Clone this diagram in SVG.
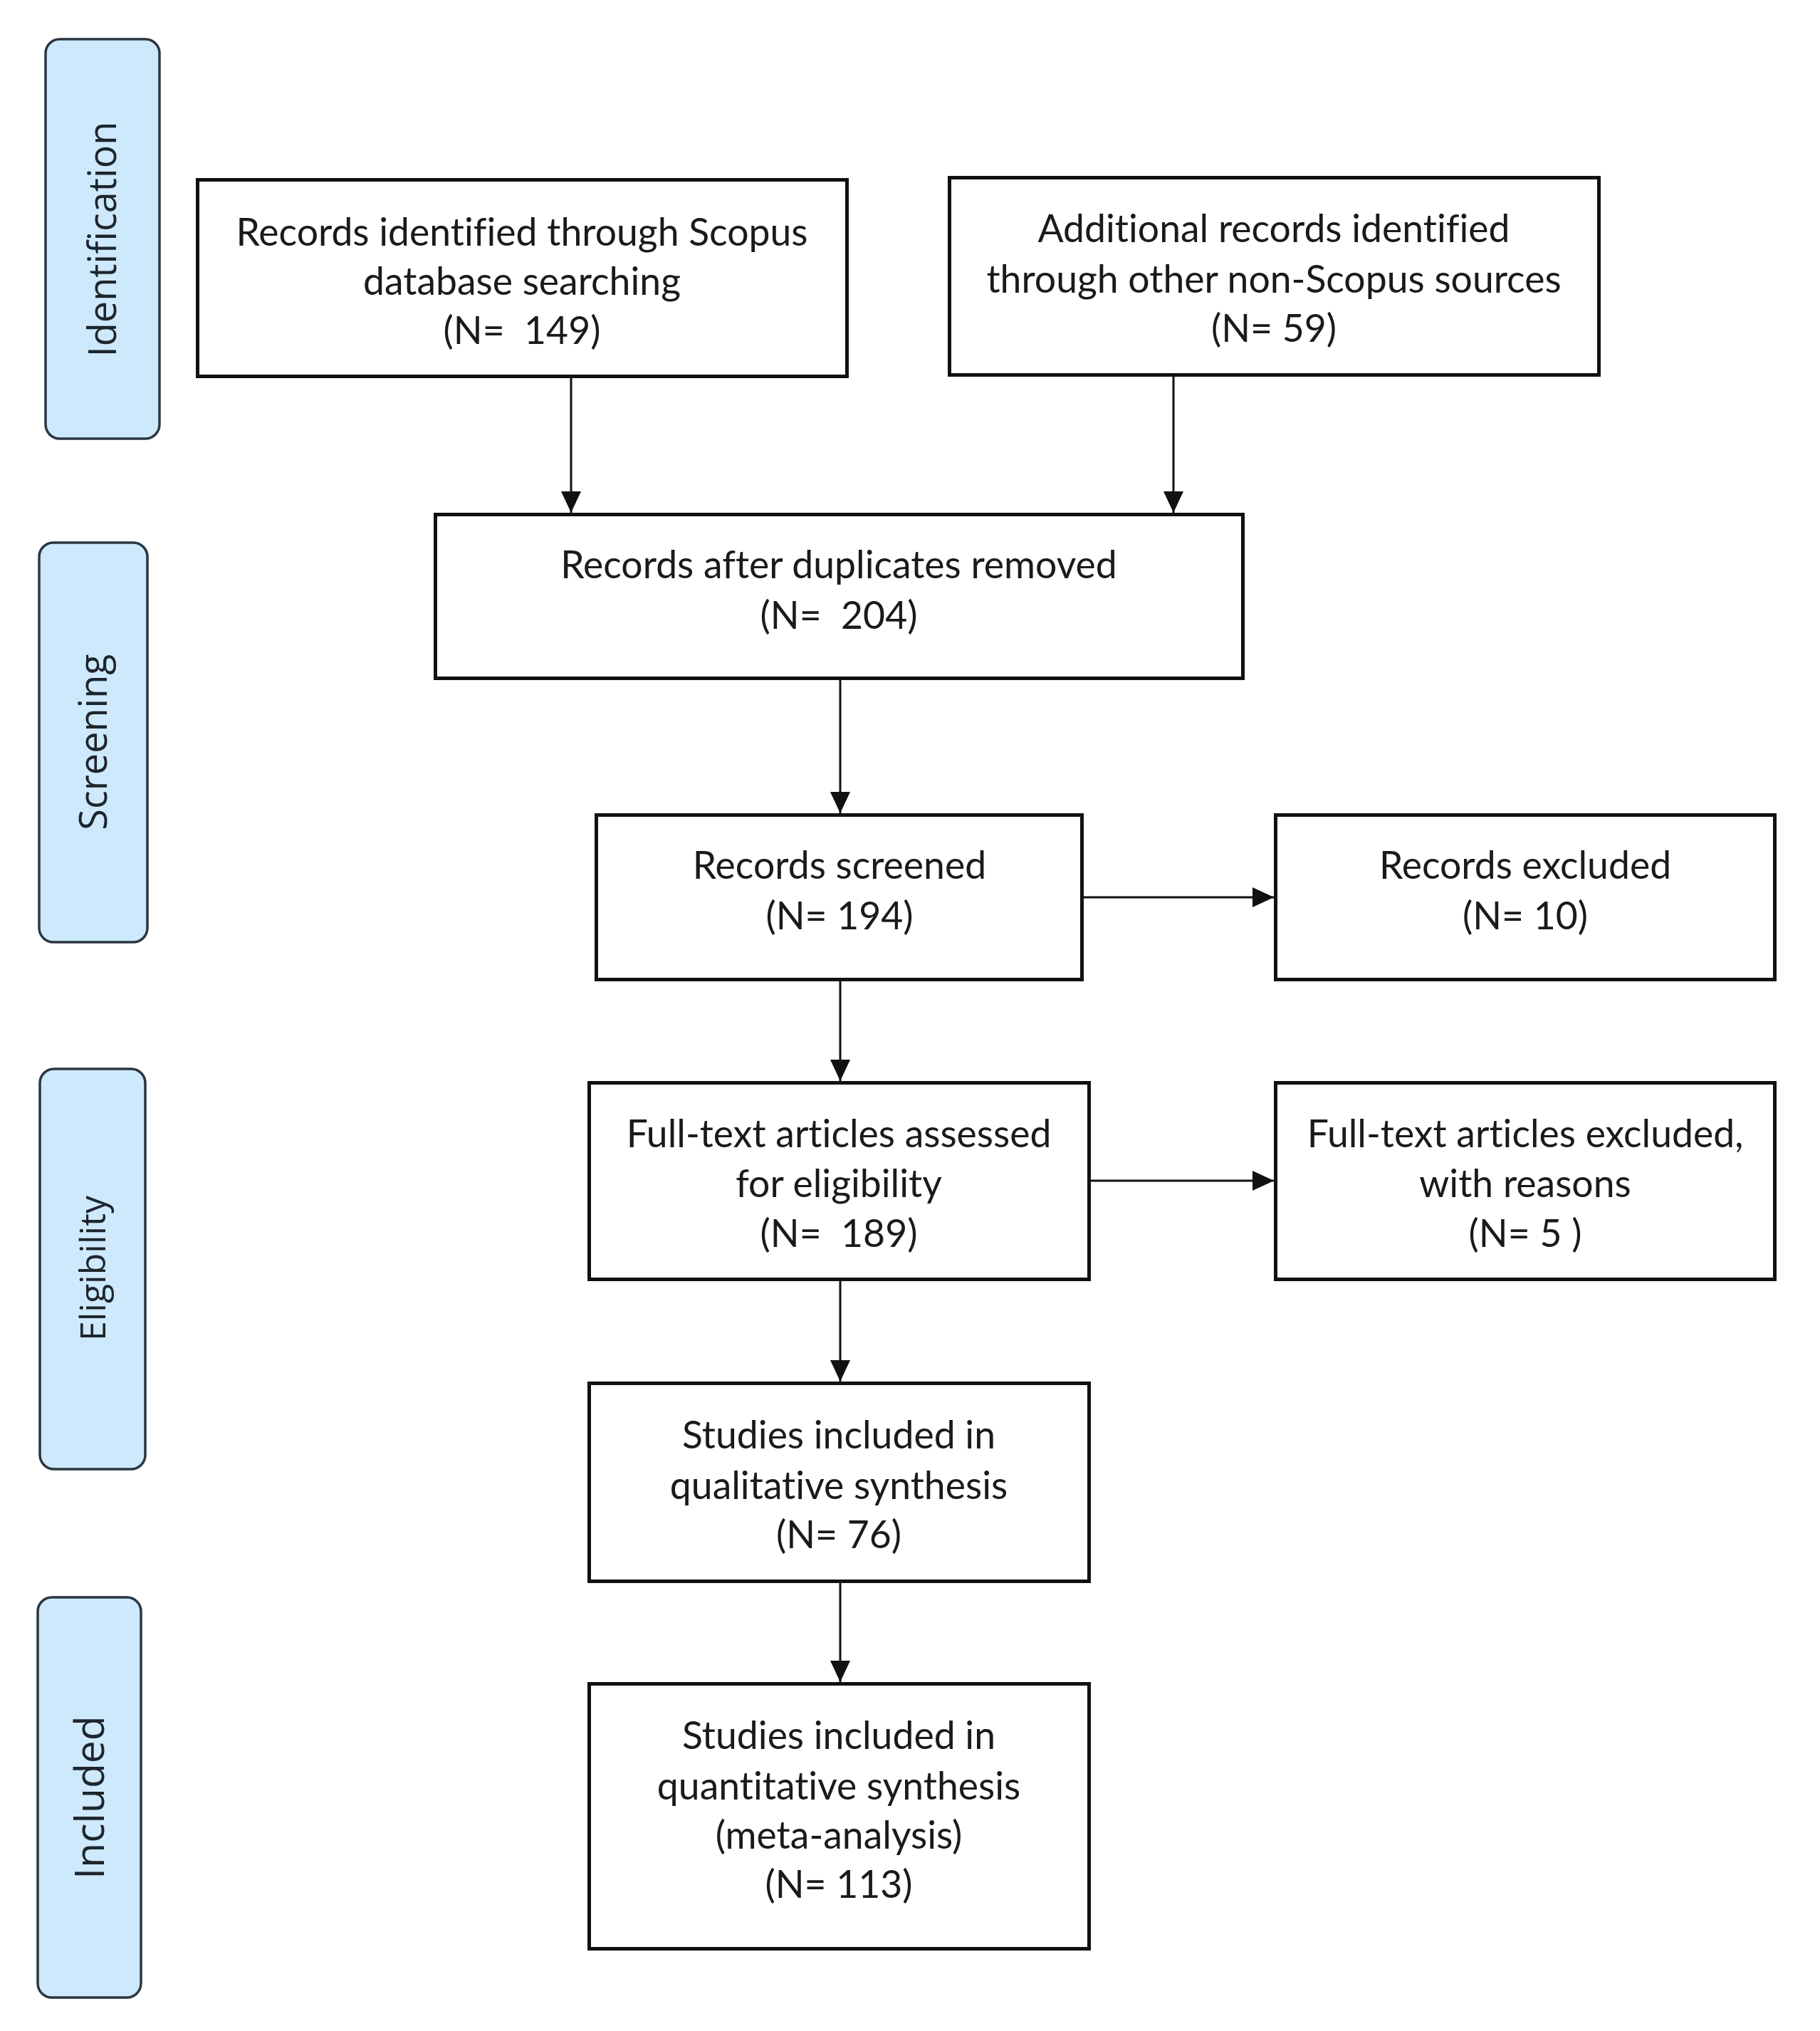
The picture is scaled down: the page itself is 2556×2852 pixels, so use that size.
<svg xmlns="http://www.w3.org/2000/svg" width="2556" height="2852" viewBox="0 0 2556 2852">
<style>
.lane{fill:#cde9fb;stroke:#2b3641;stroke-width:3.5}
.lt{font-family:"Open Sans","DejaVu Sans",sans-serif;fill:#1e252c;text-anchor:middle}
.box{fill:#ffffff;stroke:#111111;stroke-width:5}
.bt{font-family:Lato,"Liberation Sans",sans-serif;font-size:53.5px;fill:#1a1a1a;text-anchor:middle;font-variant-ligatures:none}
.con{stroke:#111111;stroke-width:3;fill:none;marker-end:url(#ah)}
</style>
<defs>
<marker id="ah" markerUnits="userSpaceOnUse" markerWidth="32" markerHeight="30" refX="30" refY="14" orient="auto">
<path d="M0,0 L30,14 L0,28 Z" fill="#111111"/>
</marker>
</defs>
<rect width="2556" height="2852" fill="#ffffff"/>
<g id="lane-identification">
<rect class="lane" x="64" y="55" width="160" height="561" rx="20"/>
<text class="lt" font-size="54" transform="translate(163,336) rotate(-90)">Identification</text>
</g>
<g id="lane-screening">
<rect class="lane" x="55" y="762" width="152" height="561" rx="20"/>
<text class="lt" font-size="54" transform="translate(150,1042) rotate(-90)">Screening</text>
</g>
<g id="lane-eligibility">
<rect class="lane" x="56" y="1501" width="148" height="562" rx="20"/>
<text class="lt" font-size="50" transform="translate(148,1781) rotate(-90)">Eligibility</text>
</g>
<g id="lane-included">
<rect class="lane" x="53" y="2243" width="145" height="562" rx="20"/>
<text class="lt" font-size="57" transform="translate(146,2524) rotate(-90)">Included</text>
</g>
<g id="connectors">
<line class="con" x1="802" y1="531" x2="802" y2="720"/>
<line class="con" x1="1648" y1="529" x2="1648" y2="720"/>
<line class="con" x1="1180" y1="955" x2="1180" y2="1142"/>
<line class="con" x1="1180" y1="1377" x2="1180" y2="1518"/>
<line class="con" x1="1180" y1="1799" x2="1180" y2="1940"/>
<line class="con" x1="1180" y1="2222" x2="1180" y2="2362"/>
<line class="con" x1="1522" y1="1260" x2="1789" y2="1260"/>
<line class="con" x1="1532" y1="1658" x2="1789" y2="1658"/>
</g>
<g id="node-scopus">
<rect class="box" x="277.5" y="252.5" width="912" height="276"/>
<text class="bt" x="733"><tspan x="733" y="345">Records identified through Scopus</tspan><tspan x="733" y="414">database searching</tspan><tspan x="733" y="483">(N=&#160; 149)</tspan></text>
</g>
<g id="node-other">
<rect class="box" x="1333.5" y="249.5" width="912" height="277"/>
<text class="bt" x="1789"><tspan x="1789" y="340">Additional records identified</tspan><tspan x="1789" y="411">through other non-Scopus sources</tspan><tspan x="1789" y="480">(N= 59)</tspan></text>
</g>
<g id="node-duplicates">
<rect class="box" x="611.5" y="722.5" width="1134" height="230"/>
<text class="bt" x="1178"><tspan x="1178" y="812">Records after duplicates removed</tspan><tspan x="1178" y="883">(N=&#160; 204)</tspan></text>
</g>
<g id="node-screened">
<rect class="box" x="837.5" y="1144.5" width="682" height="231"/>
<text class="bt" x="1179"><tspan x="1179" y="1234">Records screened</tspan><tspan x="1179" y="1305">(N= 194)</tspan></text>
</g>
<g id="node-excluded">
<rect class="box" x="1791.5" y="1144.5" width="701" height="231"/>
<text class="bt" x="2142"><tspan x="2142" y="1234">Records excluded</tspan><tspan x="2142" y="1305">(N= 10)</tspan></text>
</g>
<g id="node-fulltext">
<rect class="box" x="827.5" y="1520.5" width="702" height="276"/>
<text class="bt" x="1178"><tspan x="1178" y="1611">Full-text articles assessed</tspan><tspan x="1178" y="1681">for eligibility</tspan><tspan x="1178" y="1751">(N=&#160; 189)</tspan></text>
</g>
<g id="node-fulltext-excluded">
<rect class="box" x="1791.5" y="1520.5" width="701" height="276"/>
<text class="bt" x="2142"><tspan x="2142" y="1611">Full-text articles excluded,</tspan><tspan x="2142" y="1681">with reasons</tspan><tspan x="2142" y="1751">(N= 5 )</tspan></text>
</g>
<g id="node-qualitative">
<rect class="box" x="827.5" y="1942.5" width="702" height="278"/>
<text class="bt" x="1178"><tspan x="1178" y="2034">Studies included in</tspan><tspan x="1178" y="2105">qualitative synthesis</tspan><tspan x="1178" y="2174">(N= 76)</tspan></text>
</g>
<g id="node-quantitative">
<rect class="box" x="827.5" y="2364.5" width="702" height="372"/>
<text class="bt" x="1178"><tspan x="1178" y="2456">Studies included in</tspan><tspan x="1178" y="2527">quantitative synthesis</tspan><tspan x="1178" y="2596">(meta-analysis)</tspan><tspan x="1178" y="2665">(N= 113)</tspan></text>
</g>
</svg>
